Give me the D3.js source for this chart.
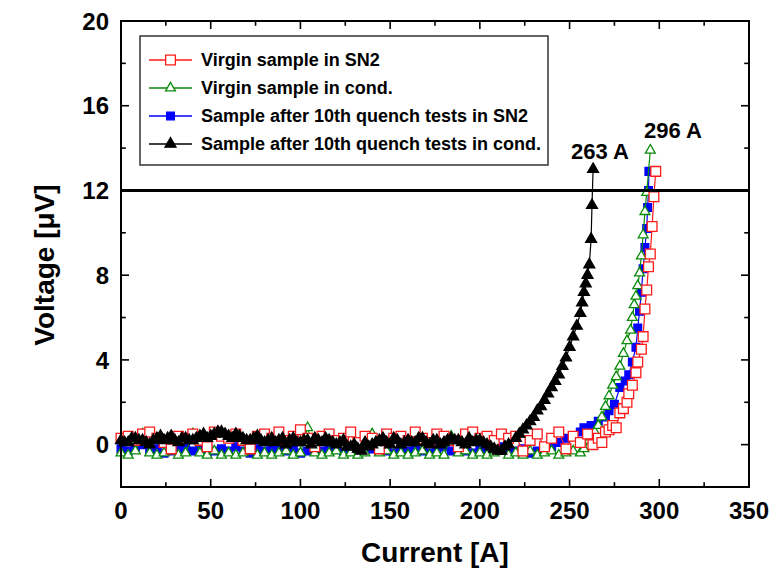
<!DOCTYPE html>
<html>
<head>
<meta charset="utf-8">
<title>Voltage vs Current</title>
<style>
  body { margin: 0; background: #fff; }
  text { font-family: "Liberation Sans", Arial, sans-serif; }
</style>
</head>
<body>
<script src="https://d3js.org/d3.v7.min.js"></script>
<script>
const width = 783;
const height = 576;
const margin = {top: 21, right: 34, bottom: 89, left: 121};

// currents of the flat part, A (shared by all four runs)
const baseI = [
  0, 4, 8, 12, 16, 20, 24, 28, 32, 36,
  40, 44, 48, 52, 56, 60, 64, 68, 72, 76,
  80, 84, 88, 92, 96, 100, 104, 108, 112, 116,
  120, 124, 128, 132, 136, 140, 144, 148, 152, 156,
  160, 164, 168, 172, 176, 180, 184, 188, 192, 196,
  200, 204, 208, 212, 216
];

// Virgin sample in SN2
const redBaseV = [
  0.3, 0.4, 0.2, 0.5, 0.6, 0.3, 0.1, -0.2, 0.4, 0.3,
  0.5, 0.2, -0.1, 0.6, 0.4, 0.3, 0.5, 0.2, -0.2, 0.4,
  0.5, 0.3, 0.6, 0.2, 0.4, 0.7, 0.3, -0.1, 0.4, 0.5,
  0.2, 0.3, 0.6, 0.1, 0.4, 0.3, -0.2, 0.5, 0.3, 0.4,
  0.2, 0.6, 0.3, 0.1, 0.5, 0.4, 0.2, -0.1, 0.5, 0.6,
  0.3, 0.4, 0.2, 0.5, 0.3
];
const redTailI = [
  220, 224, 228, 232, 236, 240, 244, 248, 252, 256,
  260, 263, 266, 268, 270, 272, 274, 276, 278, 280,
  282, 283, 285, 287, 288, 290, 291, 292, 293, 294,
  295, 296, 297, 298
];
const redTailV = [
  0.4, -0.3, 0.2, 0.5, -0.1, 0.3, 0.6, -0.2, 0.4, 0.1,
  0.5, 0.0, 0.3, 0.1, 0.6, 0.7, 0.9, 0.8, 1.5, 1.7,
  2.0, 2.4, 2.8, 3.4, 3.9, 4.5, 5.1, 6.4, 7.3, 8.4,
  9.0, 10.3, 11.7, 12.9
];

// Virgin sample in cond.
const greenBaseV = [
  -0.4, -0.5, -0.3, 0.5, -0.4, -0.5, -0.4, -0.3, -0.5, -0.4,
  0.5, -0.4, -0.5, -0.3, -0.5, -0.4, -0.5, -0.4, -0.3, -0.5,
  -0.4, -0.5, -0.4, -0.3, -0.5, -0.4, 0.8, -0.4, -0.5, -0.4,
  -0.3, -0.5, -0.4, -0.5, -0.4, 0.5, -0.4, -0.3, -0.5, -0.4,
  -0.5, -0.4, -0.3, -0.5, -0.4, -0.5, 0.4, -0.4, -0.3, -0.5,
  -0.4, -0.5, -0.4, -0.3, -0.5
];
const greenTailI = [
  220, 224, 228, 232, 236, 240, 244, 248, 252, 256,
  258, 261, 264, 266, 268, 270, 272, 274, 276, 278,
  280, 282, 284, 285, 286, 287, 288, 289, 290, 291,
  292, 293, 295
];
const greenTailV = [
  -0.4, -0.5, -0.3, -0.5, -0.4, -0.3, -0.5, -0.4, -0.3, -0.4,
  -0.2, 0.2, 0.6, 0.9, 1.3, 1.8, 2.3, 2.8, 3.2, 3.7,
  4.3, 4.9, 5.4, 6.0, 6.6, 7.0, 7.5, 8.1, 8.9, 9.9,
  11.0, 11.9, 13.9
];

// Sample after 10th quench tests in SN2
const blueBaseV = [
  -0.2, -0.3, -0.1, 0.0, -0.3, -0.2, -0.4, -0.3, -0.2, -0.1,
  -0.3, -0.2, -0.4, -0.3, -0.2, -0.3, -0.1, -0.3, -0.4, -0.2,
  -0.3, -0.2, -0.1, -0.3, -0.2, -0.4, -0.3, -0.2, -0.3, -0.1,
  -0.2, -0.4, -0.3, -0.2, -0.3, -0.2, -0.1, -0.3, -0.4, -0.2,
  -0.3, -0.2, -0.3, -0.4, -0.2, -0.1, -0.3, -0.2, -0.3, -0.4,
  -0.2, -0.3, -0.2, -0.1, -0.3
];
const blueTailI = [
  220, 224, 228, 232, 236, 240, 244, 248, 252, 256,
  258, 262, 266, 270, 272, 275, 278, 281, 283, 285,
  287, 288, 289, 290, 291, 292, 293, 293.5, 294, 294.2
];
const blueTailV = [
  -0.3, -0.2, -0.4, -0.3, -0.2, -0.1, 0.1, 0.3, 0.4, 0.6,
  0.8, 0.9, 1.1, 1.3, 1.6, 1.9, 2.7, 3.0, 3.3, 3.9,
  4.6, 5.5, 6.3, 7.2, 8.3, 9.3, 10.2, 11.2, 12.0, 12.9
];

// Sample after 10th quench tests in cond. (measured twice as often)
const blackBaseV = [
  0.2, 0.1, 0.3, 0.2, 0.0, 0.3, 0.2, 0.4, 0.1, 0.3,
  0.2, 0.4, 0.3, 0.5, 0.6, 0.4, 0.5, 0.3, 0.2, 0.4,
  0.1, 0.3, 0.2, 0.0, 0.3, 0.1, 0.2, 0.3, 0.1, 0.2,
  0.0, 0.2, -0.1, -0.2, 0.1, 0.0, 0.2, 0.1, 0.3, 0.0,
  0.2, 0.1, 0.3, 0.0, 0.2, 0.1, 0.3, 0.2, 0.0, 0.1,
  0.2, 0.0, -0.2, -0.3, 0.0
];
const blackMidI = [
  2, 6, 10, 14, 18, 22, 26, 30, 34, 38,
  42, 46, 50, 54, 58, 62, 66, 70, 74, 78,
  82, 86, 90, 94, 98, 102, 106, 110, 114, 118,
  122, 126, 130, 134, 138, 142, 146, 150, 154, 158,
  162, 166, 170, 174, 178, 182, 186, 190, 194, 198,
  202, 206, 210, 214
];
const blackMidV = [
  0.1, 0.3, 0.2, 0.1, 0.2, 0.4, 0.3, 0.2, 0.3, 0.2,
  0.3, 0.5, 0.4, 0.6, 0.5, 0.3, 0.4, 0.2, 0.3, 0.2,
  0.2, 0.1, 0.3, 0.2, 0.1, 0.2, 0.0, 0.2, 0.3, 0.1,
  0.1, -0.1, 0.0, -0.3, -0.1, 0.1, 0.3, 0.0, 0.2, 0.1,
  0.1, 0.3, 0.1, 0.2, 0.0, 0.2, 0.2, 0.1, 0.3, 0.2,
  0.1, -0.1, -0.3, -0.1
];
const blackTailI = [
  220, 222, 224, 226, 228, 230, 232, 234, 236, 238,
  240, 242, 244, 246, 248, 250, 252, 254, 256, 257,
  258, 259, 260, 261, 262, 262.5, 263.1
];
const blackTailV = [
  0.3, 0.5, 0.7, 0.9, 1.1, 1.3, 1.6, 1.8, 2.1, 2.4,
  2.7, 3.0, 3.3, 3.7, 4.1, 4.6, 5.1, 5.6, 6.2, 6.7,
  7.2, 7.6, 8.0, 8.5, 9.7, 11.3, 13.0
];

const legendNames = [
  'Virgin sample in SN2',
  'Virgin sample in cond.',
  'Sample after 10th quench tests in SN2',
  'Sample after 10th quench tests in cond.'
];
const criterion = 12;           // µV
const icLabels = [{i: 263, text: '263 A'}, {i: 296, text: '296 A'}];

const xTicks = [0, 50, 100, 150, 200, 250, 300, 350];
const yTicks = [0, 4, 8, 12, 16, 20];

const pts = (I, V) => d3.zip(I, V).sort((a, b) => a[0] - b[0]);

const series = [
  {name: legendNames[0], color: '#ff1a1a', sym: d3.symbolSquare, size: 95, fill: '#fff',
   data: pts(baseI.concat(redTailI), redBaseV.concat(redTailV))},
  {name: legendNames[1], color: '#0a8a0a', sym: d3.symbolTriangle, size: 42, fill: '#fff',
   data: pts(baseI.concat(greenTailI), greenBaseV.concat(greenTailV))},
  {name: legendNames[2], color: '#0000ff', sym: d3.symbolSquare, size: 60, fill: '#0000ff',
   data: pts(baseI.concat(blueTailI), blueBaseV.concat(blueTailV))},
  {name: legendNames[3], color: '#000', sym: d3.symbolTriangle, size: 52, fill: '#000',
   data: pts(baseI.concat(blackMidI, blackTailI), blackBaseV.concat(blackMidV, blackTailV))}
];

// drawing order: blue, green, red, then black on top
const drawOrder = [2, 1, 0, 3];

const x = d3.scaleLinear().domain([0, 350]).range([margin.left, width - margin.right]);
const y = d3.scaleLinear().domain([-2, 20]).range([height - margin.bottom, margin.top]);

const svg = d3.select('body')
  .append('svg')
  .attr('width', width)
  .attr('height', height);

const plot = svg.append('g');
const line = d3.line().x(d => x(d[0])).y(d => y(d[1]));

drawOrder.map(k => series[k]).forEach(s => {
  const g = plot.append('g');
  g.append('path')
    .attr('d', line(s.data))
    .attr('fill', 'none')
    .attr('stroke', s.color)
    .attr('stroke-width', 1.2);
  g.selectAll('path.pt')
    .data(s.data)
    .join('path')
    .attr('class', 'pt')
    .attr('transform', d => `translate(${x(d[0])},${y(d[1])})`)
    .attr('d', d3.symbol(s.sym, s.size)())
    .attr('fill', s.fill)
    .attr('stroke', s.color)
    .attr('stroke-width', 1.3);
});

// 12 µV criterion
svg.append('line')
  .attr('x1', x(0)).attr('x2', x(350))
  .attr('y1', y(criterion)).attr('y2', y(criterion))
  .attr('stroke', '#000')
  .attr('stroke-width', 3);

// Ic labels
svg.selectAll('text.ic')
  .data(icLabels)
  .join('text')
  .attr('class', 'ic')
  .attr('x', d => x(d.i))
  .attr('y', (d, i) => i === 0 ? 159 : 138)
  .attr('text-anchor', (d, i) => i === 0 ? 'end' : 'start')
  .attr('dx', (d, i) => i === 0 ? 36 : -8)
  .attr('font-size', 22)
  .attr('font-weight', 'bold')
  .text(d => d.text);

// frame and ticks
const axes = svg.append('g');
const fmt = d3.format('d');

const xMinor = d3.range(0, 351, 25);
const yMinor = d3.range(-2, 21, 2);

function drawTicks(g, vals, major, len, dir) {
  g.selectAll('line')
    .data(vals)
    .join('line')
    .attr('stroke', '#000')
    .attr('stroke-width', 1.6)
    .each(function (v) {
      const el = d3.select(this);
      const L = major.includes(v) ? len : len * 0.6;
      if (dir === 'b') el.attr('x1', x(v)).attr('x2', x(v)).attr('y1', y(-2)).attr('y2', y(-2) - L);
      if (dir === 't') el.attr('x1', x(v)).attr('x2', x(v)).attr('y1', y(20)).attr('y2', y(20) + L);
      if (dir === 'l') el.attr('y1', y(v)).attr('y2', y(v)).attr('x1', x(0)).attr('x2', x(0) + L);
      if (dir === 'r') el.attr('y1', y(v)).attr('y2', y(v)).attr('x1', x(350)).attr('x2', x(350) - L);
    });
}

drawTicks(axes.append('g'), xMinor, xTicks, 8, 'b');
drawTicks(axes.append('g'), xMinor, xTicks, 8, 't');
drawTicks(axes.append('g'), yMinor, yTicks, 8, 'l');
drawTicks(axes.append('g'), yMinor, yTicks, 8, 'r');

axes.append('rect')
  .attr('x', x(0)).attr('y', y(20))
  .attr('width', x(350) - x(0))
  .attr('height', y(-2) - y(20))
  .attr('fill', 'none')
  .attr('stroke', '#000')
  .attr('stroke-width', 2);

axes.selectAll('text.xt')
  .data(xTicks)
  .join('text')
  .attr('class', 'xt')
  .attr('x', d => x(d))
  .attr('y', y(-2) + 32)
  .attr('text-anchor', 'middle')
  .attr('font-size', 24)
  .attr('font-weight', 'bold')
  .text(fmt);

axes.selectAll('text.yt')
  .data(yTicks)
  .join('text')
  .attr('class', 'yt')
  .attr('x', x(0) - 12)
  .attr('y', d => y(d))
  .attr('dy', '0.36em')
  .attr('text-anchor', 'end')
  .attr('font-size', 24)
  .attr('font-weight', 'bold')
  .text(fmt);

svg.append('text')
  .attr('x', (x(0) + x(350)) / 2)
  .attr('y', 562)
  .attr('text-anchor', 'middle')
  .attr('font-size', 28)
  .attr('font-weight', 'bold')
  .text('Current [A]');

svg.append('text')
  .attr('transform', 'translate(54,265) rotate(-90)')
  .attr('text-anchor', 'middle')
  .attr('font-size', 28)
  .attr('font-weight', 'bold')
  .text('Voltage [\u03BCV]');

// legend
const legend = svg.append('g').attr('transform', 'translate(140,36)');
legend.append('rect')
  .attr('width', 408)
  .attr('height', 129)
  .attr('fill', '#fff')
  .attr('stroke', '#333')
  .attr('stroke-width', 1.5);

const item = legend.selectAll('g.item')
  .data(series)
  .join('g')
  .attr('class', 'item')
  .attr('transform', (d, i) => `translate(0,${24 + i * 28})`);

item.append('line')
  .attr('x1', 9).attr('x2', 52)
  .attr('stroke', d => d.color)
  .attr('stroke-width', 1.5);
item.append('path')
  .attr('transform', 'translate(30.5,0)')
  .attr('d', d => d3.symbol(d.sym, d.size)())
  .attr('fill', d => d.fill)
  .attr('stroke', d => d.color)
  .attr('stroke-width', 1.3);
item.append('text')
  .attr('x', 61)
  .attr('dy', '0.36em')
  .attr('font-size', 18)
  .attr('font-weight', 'bold')
  .text(d => d.name);
</script>
</body>
</html>
